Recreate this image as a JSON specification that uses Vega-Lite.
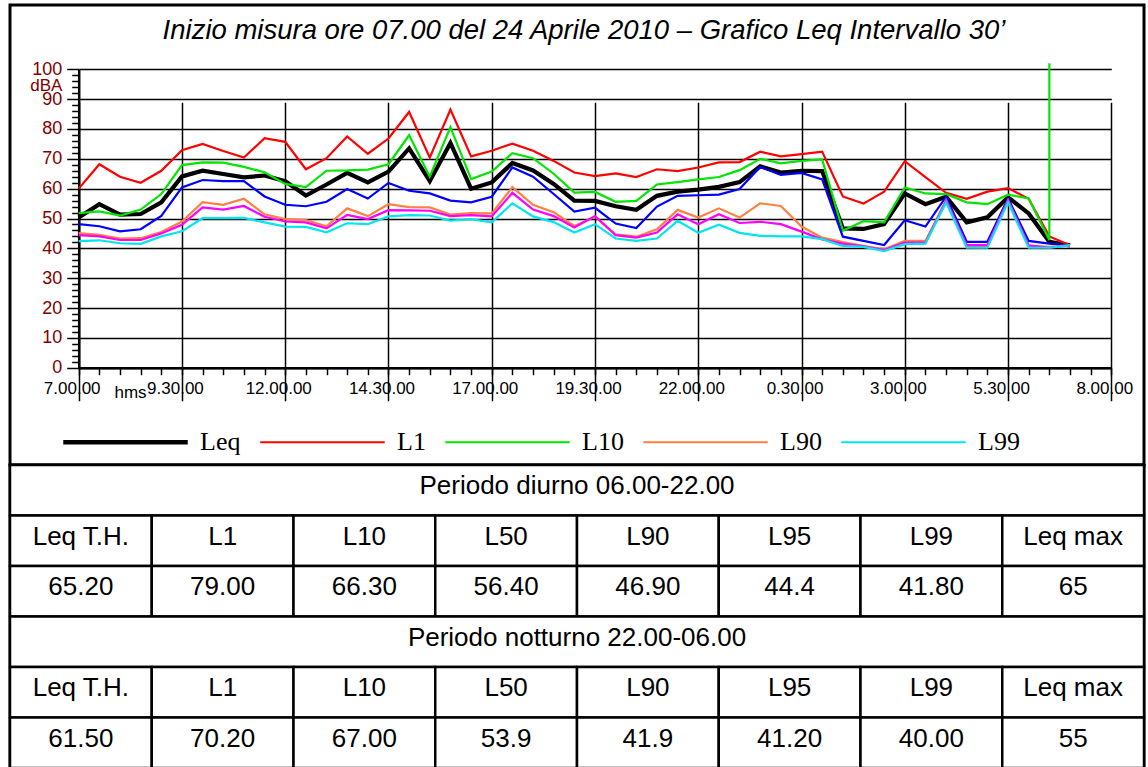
{
  "$schema": "https://vega.github.io/schema/vega-lite/v6.json",
  "padding": {"left": 7, "top": 3, "right": 0, "bottom": 0},
  "background": "white",
  "spacing": 0,
  "bounds": "flush",
  "config": {
    "font": "Liberation Sans",
    "mark": {"invalid": "filter"}
  },
  "vconcat": [
    {
      "width": 1134,
      "height": 460,
      "view": {"stroke": "black", "strokeWidth": 3, "fill": "white"},
      "title": {
        "text": "Inizio misura ore 07.00 del 24 Aprile 2010 –  Grafico Leq Intervallo 30’",
        "font": "Liberation Sans",
        "fontSize": 27.5,
        "fontStyle": "italic",
        "fontWeight": "normal",
        "color": "black",
        "anchor": "middle",
        "frame": "group",
        "offset": -61,
        "baseline": "alphabetic",
        "dx": 7
      },
      "data": {
        "values": [
          {"t": 0, "Leq": 50.3, "L1": 60.0, "L10": 51.8, "L50": 48.1, "L90": 45.1, "L95": 44.4, "L99": 42.4},
          {"t": 0.5, "Leq": 54.8, "L1": 68.2, "L10": 52.4, "L50": 47.4, "L90": 44.5, "L95": 44.0, "L99": 42.7},
          {"t": 1, "Leq": 51.3, "L1": 64.0, "L10": 51.0, "L50": 45.7, "L90": 43.3, "L95": 42.8, "L99": 41.7},
          {"t": 1.5, "Leq": 51.5, "L1": 62.0, "L10": 53.0, "L50": 46.4, "L90": 43.4, "L95": 42.8, "L99": 41.5},
          {"t": 2, "Leq": 55.4, "L1": 66.0, "L10": 58.2, "L50": 50.9, "L90": 45.5, "L95": 45.0, "L99": 44.0},
          {"t": 2.5, "Leq": 64.1, "L1": 72.9, "L10": 67.9, "L50": 60.4, "L90": 49.0, "L95": 47.9, "L99": 45.7},
          {"t": 3, "Leq": 66.0, "L1": 75.0, "L10": 68.8, "L50": 62.9, "L90": 55.5, "L95": 53.7, "L99": 50.1},
          {"t": 3.5, "Leq": 64.9, "L1": 72.6, "L10": 68.7, "L50": 62.5, "L90": 54.6, "L95": 53.0, "L99": 50.1},
          {"t": 4, "Leq": 63.8, "L1": 70.4, "L10": 67.3, "L50": 62.5, "L90": 56.6, "L95": 54.2, "L99": 50.2},
          {"t": 4.5, "Leq": 64.4, "L1": 76.9, "L10": 65.5, "L50": 57.4, "L90": 51.4, "L95": 50.6, "L99": 48.7},
          {"t": 5, "Leq": 62.5, "L1": 75.7, "L10": 61.6, "L50": 54.6, "L90": 49.8, "L95": 49.0, "L99": 47.3},
          {"t": 5.5, "Leq": 57.7, "L1": 66.5, "L10": 60.5, "L50": 54.1, "L90": 49.5, "L95": 48.7, "L99": 47.2},
          {"t": 6, "Leq": 61.4, "L1": 70.2, "L10": 66.0, "L50": 55.6, "L90": 47.4, "L95": 46.7, "L99": 45.4},
          {"t": 6.5, "Leq": 65.3, "L1": 77.5, "L10": 66.1, "L50": 59.9, "L90": 53.4, "L95": 51.2, "L99": 48.4},
          {"t": 7, "Leq": 62.1, "L1": 71.7, "L10": 66.4, "L50": 56.7, "L90": 50.8, "L95": 49.8, "L99": 48.1},
          {"t": 7.5, "Leq": 65.7, "L1": 76.8, "L10": 68.2, "L50": 61.9, "L90": 54.8, "L95": 52.8, "L99": 50.7},
          {"t": 8, "Leq": 73.5, "L1": 85.7, "L10": 77.9, "L50": 59.3, "L90": 53.8, "L95": 52.7, "L99": 51.1},
          {"t": 8.5, "Leq": 62.5, "L1": 70.4, "L10": 64.0, "L50": 58.4, "L90": 53.7, "L95": 52.6, "L99": 51.0},
          {"t": 9, "Leq": 75.3, "L1": 86.5, "L10": 80.6, "L50": 56.0, "L90": 51.3, "L95": 50.8, "L99": 49.3},
          {"t": 9.5, "Leq": 60.0, "L1": 70.8, "L10": 63.2, "L50": 55.4, "L90": 51.8, "L95": 51.1, "L99": 49.8},
          {"t": 10, "Leq": 62.1, "L1": 72.7, "L10": 65.7, "L50": 57.3, "L90": 51.7, "L95": 50.7, "L99": 48.7},
          {"t": 10.5, "Leq": 68.6, "L1": 75.1, "L10": 71.9, "L50": 67.1, "L90": 60.5, "L95": 58.6, "L99": 55.1},
          {"t": 11, "Leq": 66.1, "L1": 72.7, "L10": 70.2, "L50": 64.0, "L90": 54.6, "L95": 53.0, "L99": 50.7},
          {"t": 11.5, "Leq": 61.6, "L1": 69.3, "L10": 65.0, "L50": 58.2, "L90": 52.1, "L95": 50.8, "L99": 48.8},
          {"t": 12, "Leq": 56.0, "L1": 65.4, "L10": 58.7, "L50": 52.3, "L90": 47.5, "L95": 47.0, "L99": 45.3},
          {"t": 12.5, "Leq": 55.9, "L1": 64.2, "L10": 58.9, "L50": 53.6, "L90": 50.6, "L95": 50.8, "L99": 48.1},
          {"t": 13, "Leq": 54.1, "L1": 65.1, "L10": 55.6, "L50": 48.3, "L90": 44.7, "L95": 44.4, "L99": 43.3},
          {"t": 13.5, "Leq": 52.9, "L1": 63.9, "L10": 55.9, "L50": 46.8, "L90": 43.9, "L95": 43.6, "L99": 42.5},
          {"t": 14, "Leq": 57.6, "L1": 66.5, "L10": 61.4, "L50": 54.0, "L90": 46.4, "L95": 45.3, "L99": 43.3},
          {"t": 14.5, "Leq": 59.0, "L1": 65.9, "L10": 62.2, "L50": 57.6, "L90": 52.9, "L95": 51.4, "L99": 49.2},
          {"t": 15, "Leq": 59.7, "L1": 67.1, "L10": 63.1, "L50": 57.8, "L90": 50.3, "L95": 48.1, "L99": 45.2},
          {"t": 15.5, "Leq": 60.6, "L1": 68.8, "L10": 63.9, "L50": 58.0, "L90": 53.4, "L95": 51.4, "L99": 47.9},
          {"t": 16, "Leq": 62.2, "L1": 68.9, "L10": 66.2, "L50": 59.9, "L90": 50.3, "L95": 48.5, "L99": 45.2},
          {"t": 16.5, "Leq": 67.5, "L1": 72.4, "L10": 70.0, "L50": 67.3, "L90": 55.1, "L95": 48.9, "L99": 44.2},
          {"t": 17, "Leq": 65.4, "L1": 70.8, "L10": 68.5, "L50": 64.6, "L90": 54.2, "L95": 48.1, "L99": 44.0},
          {"t": 17.5, "Leq": 66.0, "L1": 71.6, "L10": 69.3, "L50": 65.3, "L90": 47.3, "L95": 45.6, "L99": 44.0},
          {"t": 18, "Leq": 65.9, "L1": 72.4, "L10": 69.8, "L50": 63.1, "L90": 43.6, "L95": 43.0, "L99": 43.1},
          {"t": 18.5, "Leq": 46.7, "L1": 57.4, "L10": 45.9, "L50": 43.9, "L90": 42.1, "L95": 41.6, "L99": 40.8},
          {"t": 19, "Leq": 46.5, "L1": 55.0, "L10": 49.1, "L50": 42.5, "L90": 40.8, "L95": 40.7, "L99": 40.5},
          {"t": 19.5, "Leq": 48.1, "L1": 59.0, "L10": 48.7, "L50": 41.1, "L90": 39.7, "L95": 39.4, "L99": 39.1},
          {"t": 20, "Leq": 58.4, "L1": 69.2, "L10": 60.4, "L50": 49.4, "L90": 42.5, "L95": 41.9, "L99": 41.4},
          {"t": 20.5, "Leq": 54.8, "L1": 63.9, "L10": 58.4, "L50": 47.3, "L90": 42.5, "L95": 41.9, "L99": 41.6},
          {"t": 21, "Leq": 57.3, "L1": 58.6, "L10": 58.2, "L50": 57.3, "L90": 56.1, "L95": 55.9, "L99": 55.4},
          {"t": 21.5, "Leq": 48.7, "L1": 56.6, "L10": 55.4, "L50": 42.2, "L90": 40.8, "L95": 41.1, "L99": 40.2},
          {"t": 22, "Leq": 50.4, "L1": 59.0, "L10": 54.8, "L50": 42.2, "L90": 40.8, "L95": 41.1, "L99": 40.2},
          {"t": 22.5, "Leq": 57.1, "L1": 60.2, "L10": 58.0, "L50": 56.8, "L90": 56.1, "L95": 55.9, "L99": 55.4},
          {"t": 23, "Leq": 51.7, "L1": 56.6, "L10": 56.7, "L50": 42.5, "L90": 40.8, "L95": 41.0, "L99": 40.2},
          {"t": 23.5, "Leq": 42.2, "L1": 44.0, "L10": 42.8, "L50": 41.6, "L90": 40.5, "L95": 40.2, "L99": 40.2},
          {"t": 23.5, "L10": 102},
          {"t": 24, "Leq": 41.0, "L1": 41.0, "L50": 41.0, "L90": 41.0, "L95": 41.0, "L99": 41.0}
        ]
      },
      "transform": [
        {"fold": ["Leq", "L1", "L10", "L50", "L90", "L95", "L99"], "as": ["s", "v"]}
      ],
      "mark": {"type": "line", "clip": false},
      "encoding": {
        "x": {
          "field": "t",
          "type": "quantitative",
          "scale": {"domain": [0, 25], "range": [68.7, 1101.3], "nice": false, "zero": false},
          "axis": {
            "offset": -97.3,
            "values": [0,0.5,1,1.5,2,2.5,3,3.5,4,4.5,5,5.5,6,6.5,7,7.5,8,8.5,9,9.5,10,10.5,11,11.5,12,12.5,13,13.5,14,14.5,15,15.5,16,16.5,17,17.5,18,18.5,19,19.5,20,20.5,21,21.5,22,22.5,23,23.5,24,24.5,25],
            "labelExpr": "datum.value % 2.5 === 0 ? (floor((7 + datum.value) % 24) + '.' + ((7 + datum.value) % 1 === 0 ? '00' : '30') + '.00') : ''",
            "labelFont": "Liberation Sans",
            "labelFontSize": 17,
            "labelColor": "black",
            "labelPadding": 6,
            "labelOffset": -7,
            "labelFlush": false,
            "labelOverlap": false,
            "tickSize": 7,
            "tickColor": "black",
            "tickWidth": 1.5,
            "domainColor": "black",
            "domainWidth": 2.5,
            "grid": true,
            "gridColor": "black",
            "gridWidth": 1.5,
            "gridOpacity": {"condition": {"test": "datum.value % 2.5 === 0", "value": 1}, "value": 0},
            "title": "hms",
            "titleFont": "Liberation Sans",
            "titleFontSize": 17,
            "titleFontWeight": "normal",
            "titleColor": "black",
            "titleAlign": "left",
            "titleBaseline": "alphabetic",
            "titleX": 104,
            "titleY": 30
          }
        },
        "y": {
          "field": "v",
          "type": "quantitative",
          "scale": {"domain": [0, 100], "range": [362.7, 64.3], "nice": false, "zero": false},
          "axis": {
            "offset": -68.7,
            "values": [0,2,4,6,8,10,12,14,16,18,20,22,24,26,28,30,32,34,36,38,40,42,44,46,48,50,52,54,56,58,60,62,64,66,68,70,72,74,76,78,80,82,84,86,88,90,92,94,96,98,100],
            "labelExpr": "datum.value % 10 === 0 ? datum.label : ''",
            "labelFont": "Liberation Sans",
            "labelFontSize": 18,
            "labelColor": "#800000",
            "labelPadding": 5,
            "labelFlush": false,
            "labelOverlap": false,
            "tickSize": {"condition": {"test": "datum.value % 10 === 0", "value": 12}, "value": 7},
            "tickColor": "black",
            "tickWidth": 1.5,
            "domainColor": "black",
            "domainWidth": 2.5,
            "grid": true,
            "gridColor": "black",
            "gridWidth": 1.5,
            "gridOpacity": {"condition": {"test": "datum.value % 10 === 0", "value": 1}, "value": 0},
            "title": "dBA",
            "titleFont": "Liberation Sans",
            "titleFontSize": 17,
            "titleFontWeight": "normal",
            "titleColor": "#800000",
            "titleAngle": 0,
            "titleAlign": "left",
            "titleBaseline": "middle",
            "titleX": -49,
            "titleY": 80
          }
        },
        "color": {
          "field": "s",
          "type": "nominal",
          "scale": {
            "domain": ["Leq", "L1", "L10", "L50", "L90", "L95", "L99"],
            "range": ["#000000", "#ff0000", "#00e600", "#0000ff", "#ff8040", "#ff00ff", "#00e5ee"]
          },
          "legend": {
            "orient": "none",
            "legendX": 52,
            "legendY": 373.5,
            "direction": "horizontal",
            "title": null,
            "values": ["Leq", "L1", "L10", "L90", "L99"],
            "symbolType": "stroke",
            "symbolSize": 15500,
            "symbolStrokeWidth": 2,
            "labelFont": "Liberation Serif",
            "labelFontSize": 26,
            "labelColor": "black",
            "labelOffset": 11,
            "columnPadding": 15,
            "padding": 0,
            "encode": {
              "symbols": {
                "update": {
                  "stroke": {"signal": "(datum.value === 'L10' ? '#8fd14f' : datum.value === 'L90' ? '#ffa050' : datum.value === 'L99' ? '#1eb4f0' : datum.value === 'L1' ? '#ff0000' : '#000000')"},
                  "strokeWidth": {"signal": "(datum.value === 'Leq' ? 4.5 : 1.8)"}
                }
              }
            }
          }
        },
        "strokeWidth": {"condition": {"test": "datum.s === 'Leq'", "value": 4.2}, "value": 2.2},
        "order": {"value": null}
      }
    },
    {
      "width": 1134,
      "height": 303,
      "view": {"stroke": "black", "strokeWidth": 3, "fill": "white"},
      "data": {
        "values": [
          {"r": 0, "r1": 1, "c0": 0, "c1": 8, "txt": "Periodo diurno 06.00-22.00"},
          {"r": 1, "r1": 2, "c0": 0, "c1": 1, "txt": "Leq T.H."},
          {"r": 1, "r1": 2, "c0": 1, "c1": 2, "txt": "L1"},
          {"r": 1, "r1": 2, "c0": 2, "c1": 3, "txt": "L10"},
          {"r": 1, "r1": 2, "c0": 3, "c1": 4, "txt": "L50"},
          {"r": 1, "r1": 2, "c0": 4, "c1": 5, "txt": "L90"},
          {"r": 1, "r1": 2, "c0": 5, "c1": 6, "txt": "L95"},
          {"r": 1, "r1": 2, "c0": 6, "c1": 7, "txt": "L99"},
          {"r": 1, "r1": 2, "c0": 7, "c1": 8, "txt": "Leq max"},
          {"r": 2, "r1": 3, "c0": 0, "c1": 1, "txt": "65.20"},
          {"r": 2, "r1": 3, "c0": 1, "c1": 2, "txt": "79.00"},
          {"r": 2, "r1": 3, "c0": 2, "c1": 3, "txt": "66.30"},
          {"r": 2, "r1": 3, "c0": 3, "c1": 4, "txt": "56.40"},
          {"r": 2, "r1": 3, "c0": 4, "c1": 5, "txt": "46.90"},
          {"r": 2, "r1": 3, "c0": 5, "c1": 6, "txt": "44.4"},
          {"r": 2, "r1": 3, "c0": 6, "c1": 7, "txt": "41.80"},
          {"r": 2, "r1": 3, "c0": 7, "c1": 8, "txt": "65"},
          {"r": 3, "r1": 4, "c0": 0, "c1": 8, "txt": "Periodo notturno 22.00-06.00"},
          {"r": 4, "r1": 5, "c0": 0, "c1": 1, "txt": "Leq T.H."},
          {"r": 4, "r1": 5, "c0": 1, "c1": 2, "txt": "L1"},
          {"r": 4, "r1": 5, "c0": 2, "c1": 3, "txt": "L10"},
          {"r": 4, "r1": 5, "c0": 3, "c1": 4, "txt": "L50"},
          {"r": 4, "r1": 5, "c0": 4, "c1": 5, "txt": "L90"},
          {"r": 4, "r1": 5, "c0": 5, "c1": 6, "txt": "L95"},
          {"r": 4, "r1": 5, "c0": 6, "c1": 7, "txt": "L99"},
          {"r": 4, "r1": 5, "c0": 7, "c1": 8, "txt": "Leq max"},
          {"r": 5, "r1": 6, "c0": 0, "c1": 1, "txt": "61.50"},
          {"r": 5, "r1": 6, "c0": 1, "c1": 2, "txt": "70.20"},
          {"r": 5, "r1": 6, "c0": 2, "c1": 3, "txt": "67.00"},
          {"r": 5, "r1": 6, "c0": 3, "c1": 4, "txt": "53.9"},
          {"r": 5, "r1": 6, "c0": 4, "c1": 5, "txt": "41.9"},
          {"r": 5, "r1": 6, "c0": 5, "c1": 6, "txt": "41.20"},
          {"r": 5, "r1": 6, "c0": 6, "c1": 7, "txt": "40.00"},
          {"r": 5, "r1": 6, "c0": 7, "c1": 8, "txt": "55"}
        ]
      },
      "transform": [
        {"calculate": "(datum.c0 + datum.c1) / 2", "as": "cx"},
        {"calculate": "datum.r + 0.5", "as": "ry"}
      ],
      "layer": [
        {
          "mark": {"type": "rect", "fill": "white", "stroke": "black", "strokeWidth": 2.5},
          "encoding": {
            "x": {"field": "c0", "type": "quantitative", "scale": {"domain": [0, 8], "nice": false, "zero": false}, "axis": null},
            "x2": {"field": "c1"},
            "y": {"field": "r", "type": "quantitative", "scale": {"domain": [0, 6], "reverse": true, "nice": false, "zero": false}, "axis": null},
            "y2": {"field": "r1"}
          }
        },
        {
          "mark": {"type": "text", "font": "Liberation Sans", "fontSize": 26, "color": "black", "baseline": "middle", "align": "center", "dy": -4},
          "encoding": {
            "x": {"field": "cx", "type": "quantitative"},
            "y": {"field": "ry", "type": "quantitative"},
            "text": {"field": "txt"}
          }
        }
      ]
    }
  ]
}
